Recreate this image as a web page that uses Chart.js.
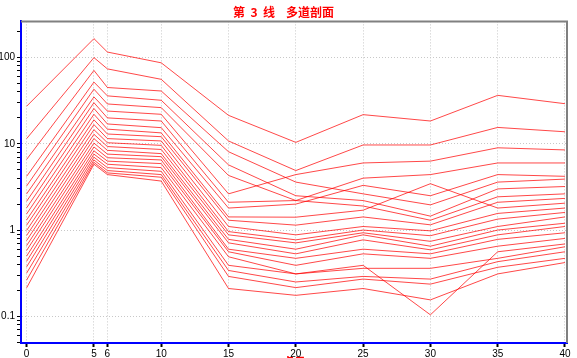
<!DOCTYPE html>
<html>
<head>
<meta charset="utf-8">
<script src="https://cdn.jsdelivr.net/npm/chart.js@4.4.1/dist/chart.umd.min.js"></script>
<style>
  html, body { margin: 0; padding: 0; background: #fff; overflow: hidden; }
</style>
</head>
<body>
<canvas id="myChart" width="577" height="358"></canvas>
<script>
// station positions along line 3
const stations = [0, 5, 6, 10, 15, 20, 25, 30, 35, 40];

// one array per channel, top to bottom
const ch01 = [27.3, 166, 116, 87, 21.4, 10.4, 21.8, 18.4, 36.5, 29.2];
const ch02 = [11.5, 100, 74, 56, 10.8, 4.9, 9.7, 9.7, 15.5, 13.8];
const ch03 = [6.6, 71, 45, 41, 8.1, 3.6, 2.63, 1.96, 3.6, 3.9];
const ch04 = [4.2, 52, 36, 32, 5.7, 2.5, 2.2, 1.45, 3.0, 3.2];
const ch05 = [3.25, 43, 29, 26.3, 4.3, 2.2, 1.9, 1.3, 2.43, 2.63];
const ch06 = [2.63, 35, 24, 22, 2.63, 4.4, 6.0, 6.3, 9.0, 8.5];
const ch07 = [2.16, 30, 20, 18.4, 2.1, 2.2, 4.0, 4.4, 6.0, 6.0];
const ch08 = [1.81, 25.7, 17, 15.4, 1.8, 2.0, 3.3, 2.5, 4.4, 4.2];
const ch09 = [1.54, 22, 14.8, 13.4, 1.42, 1.41, 1.7, 3.45, 1.8, 2.05];
const ch10 = [1.31, 19, 13, 12.1, 1.3, 1.14, 1.42, 1.15, 2.1, 2.33];
const ch11 = [1.14, 16.7, 11.5, 10.8, 1.1, 0.88, 1.1, 0.98, 1.56, 1.8];
const ch12 = [0.99, 14.6, 10.3, 9.6, 0.96, 0.77, 1.0, 0.86, 1.34, 1.6];
const ch13 = [0.865, 12.9, 9.3, 8.6, 0.88, 0.71, 0.93, 0.74, 1.1, 1.42];
const ch14 = [0.757, 11.5, 8.4, 7.7, 0.78, 0.6, 0.88, 0.65, 1.0, 1.2];
const ch15 = [0.66, 10.2, 7.6, 7.1, 0.71, 0.53, 0.77, 0.59, 0.88, 1.1];
const ch16 = [0.58, 9.2, 6.9, 6.5, 0.6, 0.47, 0.6, 0.53, 0.78, 0.93];
const ch17 = [0.50, 8.3, 6.3, 5.9, 0.56, 0.39, 0.53, 0.47, 0.65, 0.8];
const ch18 = [0.436, 7.6, 5.8, 5.3, 0.49, 0.31, 0.39, 0.104, 0.56, 0.69];
const ch19 = [0.375, 7.0, 5.3, 4.8, 0.39, 0.31, 0.36, 0.36, 0.47, 0.64];
const ch20 = [0.317, 6.5, 4.9, 4.4, 0.34, 0.25, 0.29, 0.27, 0.43, 0.56];
const ch21 = [0.263, 6.1, 4.6, 4.1, 0.29, 0.215, 0.27, 0.236, 0.37, 0.47];
const ch22 = [0.214, 5.8, 4.4, 3.7, 0.21, 0.175, 0.21, 0.155, 0.31, 0.42];

const channels = [ch01, ch02, ch03, ch04, ch05, ch06, ch07, ch08, ch09, ch10, ch11,
                  ch12, ch13, ch14, ch15, ch16, ch17, ch18, ch19, ch20, ch21, ch22];

// log axis: labelled decades + unlabelled minor marks
const yMajorTicks = [0.1, 1, 10, 100];
const yMinorSteps = [2, 3, 4, 5, 6, 7, 8, 9];

const tickFont = { family: "'Liberation Sans Narrow', 'Liberation Sans', Arial, sans-serif", size: 10 };

// gray frame on top and right of plot
const frameLines = {
  id: 'frameLines',
  afterDraw(chart) {
    const { ctx, chartArea: a } = chart;
    ctx.save();
    ctx.strokeStyle = '#808080';
    ctx.lineWidth = 2;
    ctx.beginPath();
    ctx.moveTo(a.left, a.top);
    ctx.lineTo(a.right, a.top);
    ctx.lineTo(a.right, a.bottom);
    ctx.stroke();
    ctx.restore();
  }
};

const datasets = channels.map((vals, i) => ({
  label: 'CH' + (i + 1),
  data: stations.map((x, j) => ({ x: x, y: vals[j] })),
  borderColor: 'rgba(255, 0, 0, 0.72)',
  borderWidth: 1,
  pointRadius: 0,
  tension: 0,
  fill: false
}));

const myChart = document.getElementById('myChart');

new Chart(myChart, {
  type: 'line',
  data: { datasets: datasets },
  plugins: [frameLines],
  options: {
    responsive: false,
    animation: false,
    devicePixelRatio: 1,
    layout: { padding: { left: 0, right: 10, top: 0, bottom: 0 } },
    plugins: {
      legend: { display: false },
      tooltip: { enabled: false },
      title: {
        display: true,
        text: '第  3  线    多道剖面',
        color: '#ff0000',
        font: { family: "'Noto Sans CJK SC'", size: 12, weight: 'bold' },
        padding: { top: 5, bottom: 2 }
      }
    },
    scales: {
      x: {
        type: 'linear',
        min: -0.42,
        max: 40.15,
        afterBuildTicks: s => { s.ticks = stations.map(v => ({ value: v })); },
        afterFit: s => { s.height = 15; },
        ticks: { autoSkip: false, maxRotation: 0, padding: 1, color: '#000', font: tickFont },
        grid: { color: '#c8c8c8', lineWidth: 1, tickColor: '#000', tickWidth: 2, tickLength: 4 },
        border: { color: '#0000ff', width: 2, dash: [1, 2] },
        title: {
          display: true,
          text: '点号',
          color: '#ff0000',
          font: { family: "'Noto Sans CJK SC'", size: 12, weight: 'bold' },
          padding: { top: 0, bottom: -11.5 }
        }
      },
      y: {
        type: 'logarithmic',
        min: 0.049,
        max: 263,
        afterBuildTicks: s => {
          const t = [];
          yMajorTicks.forEach(m => {
            t.push({ value: m, major: true });
            yMinorSteps.forEach(k => t.push({ value: +(m * k).toPrecision(3), major: false }));
          });
          t.push({ value: 0.05, major: false }, { value: 0.06, major: false }, { value: 0.07, major: false },
                 { value: 0.08, major: false }, { value: 0.09, major: false });
          s.ticks = t.filter(o => o.value >= s.min && o.value <= s.max).sort((a, b) => a.value - b.value);
        },
        afterFit: s => { s.width = 21; },
        ticks: {
          autoSkip: false,
          padding: 2,
          color: '#000',
          font: tickFont,
          callback: v => yMajorTicks.includes(v) ? String(v) : ''
        },
        grid: {
          color: c => (c.tick && c.tick.major) ? '#c8c8c8' : 'rgba(0,0,0,0)',
          lineWidth: 1,
          tickColor: '#000',
          tickLength: 4
        },
        border: { color: '#0000ff', width: 2, dash: [1, 2] }
      }
    }
  }
});
</script>
</body>
</html>
